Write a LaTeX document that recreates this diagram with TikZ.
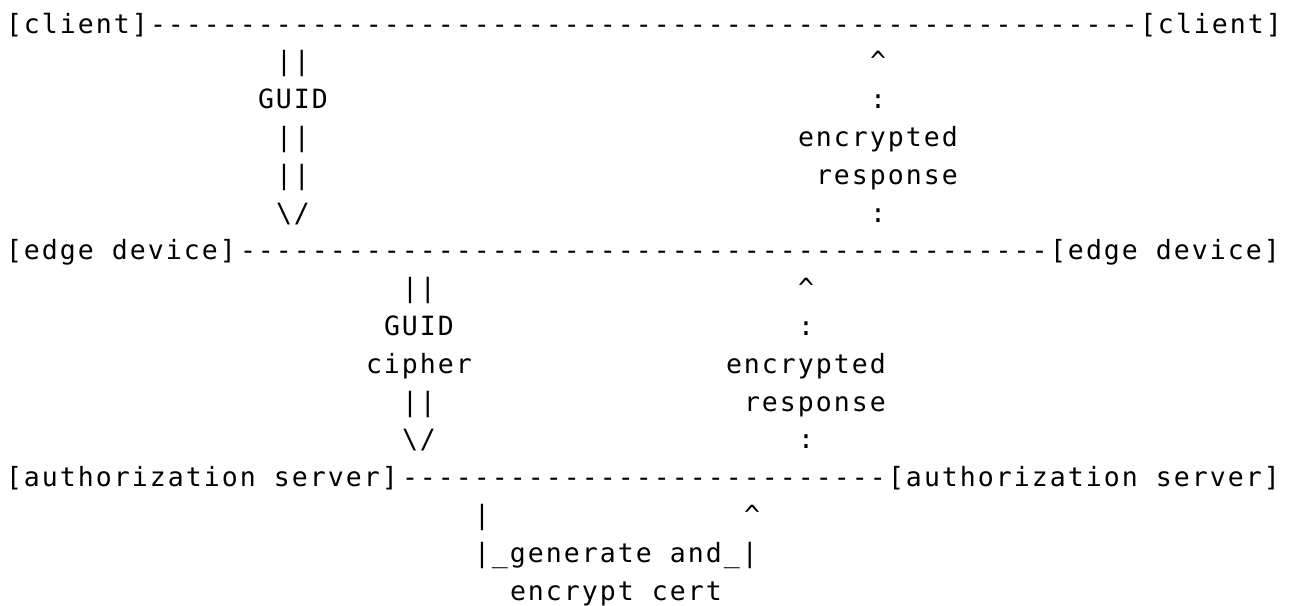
\documentclass[tikz,border=0pt]{standalone}
\usepackage{fontspec}
\newfontfamily\asciifont{DejaVu Sans Mono}[LetterSpace=7.7]
\newcommand\fivedash{-----}
\newcommand\asciisetup{\asciifont\fontsize{26.5pt}{26.5pt}\selectfont\fontdimen2\font=18pt\fontdimen3\font=0pt\fontdimen4\font=0pt}
\tikzset{
  txt/.style={font=\asciisetup, anchor=base west, inner sep=0pt, outer sep=0pt, text=black},
}
\begin{document}
\begin{tikzpicture}[x=1pt,y=-1pt]
\useasboundingbox (0,0) rectangle (1292,605);
\fill[white] (0,0) rectangle (1292,605);
% line 1
\node[txt] (cl) at ({6+18*0},33) {[client]};
\node[txt] (d1) at ({6+18*8},33) {\fivedash\fivedash\fivedash\fivedash\fivedash\fivedash\fivedash\fivedash\fivedash\fivedash\fivedash};
\node[txt] (cr) at ({6+18*63},33) {[client]};
% line 2
\node[txt] (a1a) at ({6+18*15},70.8) {||};
\node[txt] (b1a) at ({6+18*48},70.8) {\textasciicircum};
% line 3
\node[txt] (a1b) at ({6+18*14},108.6) {GUID};
\node[txt] (b1b) at ({6+18*48},108.6) {:};
% line 4
\node[txt] (a1c) at ({6+18*15},146.4) {||};
\node[txt] (b1c) at ({6+18*44},146.4) {encrypted};
% line 5
\node[txt] (a1d) at ({6+18*15},184.2) {||};
\node[txt] (b1d) at ({6+18*45},184.2) {response};
% line 6
\node[txt] (a1e) at ({6+18*15},222) {\textbackslash/};
\node[txt] (b1e) at ({6+18*48},222) {:};
% line 7
\node[txt] (el) at ({6+18*0},259.8) {[edge device]};
\node[txt] (d2) at ({6+18*13},259.8) {\fivedash\fivedash\fivedash\fivedash\fivedash\fivedash\fivedash\fivedash\fivedash};
\node[txt] (er) at ({6+18*58},259.8) {[edge device]};
% line 8
\node[txt] (a2a) at ({6+18*22},297.6) {||};
\node[txt] (b2a) at ({6+18*44},297.6) {\textasciicircum};
% line 9
\node[txt] (a2b) at ({6+18*21},335.4) {GUID};
\node[txt] (b2b) at ({6+18*44},335.4) {:};
% line 10
\node[txt] (a2c) at ({6+18*20},373.2) {cipher};
\node[txt] (b2c) at ({6+18*40},373.2) {encrypted};
% line 11
\node[txt] (a2d) at ({6+18*22},411) {||};
\node[txt] (b2d) at ({6+18*41},411) {response};
% line 12
\node[txt] (a2e) at ({6+18*22},448.8) {\textbackslash/};
\node[txt] (b2e) at ({6+18*44},448.8) {:};
% line 13
\node[txt] (sl) at ({6+18*0},486.6) {[authorization server]};
\node[txt] (d3) at ({6+18*22},486.6) {\fivedash\fivedash\fivedash\fivedash\fivedash--};
\node[txt] (sr) at ({6+18*49},486.6) {[authorization server]};
% line 14
\node[txt] (a3a) at ({6+18*26},524.4) {|};
\node[txt] (b3a) at ({6+18*41},524.4) {\textasciicircum};
% line 15
\node[txt] (g3) at ({6+18*26},562.2) {|\_generate and\_|};
% line 16
\node[txt] (c3) at ({6+18*28},600) {encrypt cert};
\end{tikzpicture}
\end{document}
